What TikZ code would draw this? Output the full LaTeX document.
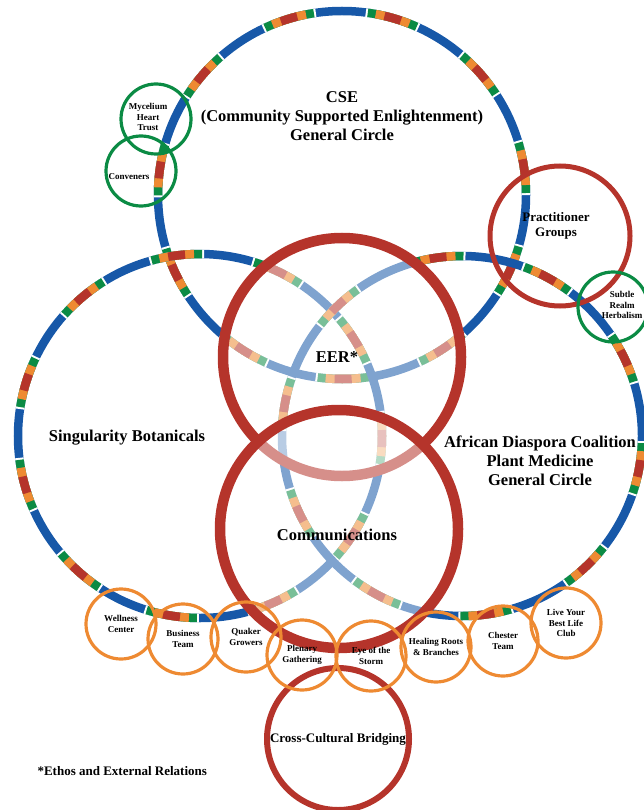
\documentclass[tikz,border=0pt]{standalone}
\usepackage{fontspec}
\setmainfont{Liberation Serif}
\usetikzlibrary{positioning}
\definecolor{cblue}{HTML}{1758A8}
\definecolor{cgreen}{HTML}{0B8B44}
\definecolor{corange}{HTML}{EE8A32}
\definecolor{cred}{HTML}{B5342B}
\tikzset{
  every picture/.style={x=1pt, y=-1pt, font=\bfseries},
  ring/.style={draw=#1, line width=8.5pt},
  hub/.style={circle, draw=cred, line width=10.5pt, fill=white, fill opacity=0.45, minimum size=238pt, inner sep=0pt},
  pod/.style={circle, draw=#1, line width=3.2pt, minimum size=70pt, inner sep=0pt, align=center, font=\fontsize{9}{10.5}\selectfont\bfseries},
  pod/.default=corange,
  title/.style={align=center, font=\fontsize{16.5}{19}\selectfont\bfseries},
  label/.style={align=center, font=\fontsize{13}{15}\selectfont\bfseries},
  small/.style={align=center, font=\fontsize{9}{10.5}\selectfont\bfseries},
}
\newcommand{\bandring}[3]{%
  \pgfmathsetmacro{\bper}{2*pi*#2/round(2*pi*#2/108)}%
  \pgfmathsetmacro{\bwh}{\bper-55}%
  \pgfmathsetmacro{\bgr}{\bper-53}%
  \pgfmathsetmacro{\bor}{\bper-45}%
  \pgfmathsetmacro{\bre}{\bper-36}%
  \draw[ring=cblue] (#1) circle (#2pt);
  \draw[ring=white, dash pattern=on 55pt off \bwh pt, dash phase=#3pt] (#1) circle (#2pt);
  \draw[ring=cgreen, dash pattern=on 0pt off 2pt on 51pt off \bgr pt, dash phase=#3pt] (#1) circle (#2pt);
  \draw[ring=corange, dash pattern=on 0pt off 10pt on 35pt off \bor pt, dash phase=#3pt] (#1) circle (#2pt);
  \draw[ring=cred, dash pattern=on 0pt off 19pt on 17pt off \bre pt, dash phase=#3pt] (#1) circle (#2pt);
}

\begin{document}
\begin{tikzpicture}
  \useasboundingbox (0,0) rectangle (644,810);
  \clip (0,0) rectangle (644,810);
  \coordinate (cse) at (342,195);
  \coordinate (sb) at (200,436);
  \coordinate (adc) at (462,436);
  \bandring{cse}{184}{0}
  \bandring{sb}{182}{30}
  \bandring{adc}{180}{60}
  \node[hub] (eer) at (342,357) {};
  \node[hub] (com) at (339,529) {};
  \node[circle, draw=cred, line width=6pt, minimum size=142pt, inner sep=0pt, label] (ccb) at (338,739) {Cross-Cultural Bridging};
  \node[circle, draw=cred, line width=5pt, minimum size=140pt] (pg) at (560,236) {};
  \node[pod=cgreen] (mht) at (156,119) {};
  \node[pod=cgreen] (cv) at (141,171) {};
  \node[pod=cgreen] (srh) at (613,307) {};
  \node[pod] (wc) at (121,624) {Wellness\\Center};
  \node[pod] (bt) at (183,639) {Business\\Team};
  \node[pod] (qg) at (246,637) {Quaker\\Growers};
  \node[pod] (plg) at (302,655) {Plenary\\Gathering};
  \node[pod] (eos) at (371,656) {Eye of the\\Storm};
  \node[pod] (hrb) at (436,647) {Healing Roots\\\& Branches};
  \node[pod] (ct) at (503,641) {Chester\\Team};
  \node[pod] (lybl) at (566,623) {Live Your\\Best Life\\Club};
  \node[title] (csetext) at (342,116) {CSE\\(Community Supported Enlightenment)\\General Circle};
  \node[title] (sbtext) at (127,438) {Singularity Botanicals};
  \node[title] (adctext) at (540,461) {African Diaspora Coalition\\Plant Medicine\\General Circle};
  \node[title] (eertext) at (337,357) {EER*};
  \node[title] (comtext) at (337,535) {Communications};
  \node[label] (pgtext) at (556,226) {Practitioner\\Groups};
  \node[small] (mhttext) at (148,117) {Mycelium\\Heart\\Trust};
  \node[small] (cvtext) at (129,177) {Conveners};
  \node[small] (srhtext) at (622,305) {Subtle\\Realm\\Herbalism};
  \node[label, anchor=west] (note) at (34,771) {*Ethos and External Relations};
\end{tikzpicture}
\end{document}
